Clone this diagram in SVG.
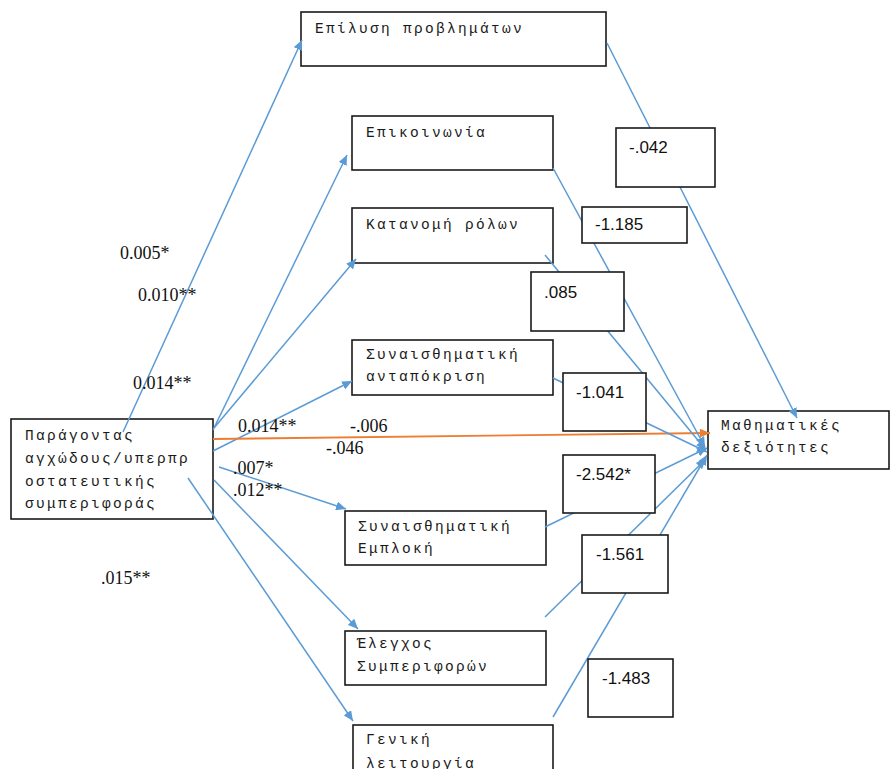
<svg xmlns="http://www.w3.org/2000/svg" width="892" height="774" viewBox="0 0 892 774">
  <defs>
    <marker id="arrow-blue" markerUnits="userSpaceOnUse" markerWidth="11" markerHeight="9" refX="10" refY="4.5" orient="auto">
      <path d="M0,0 L10,4.5 L0,9 z" fill="#5B9BD5"/>
    </marker>
    <marker id="arrow-orange" markerUnits="userSpaceOnUse" markerWidth="11" markerHeight="9" refX="10" refY="4.5" orient="auto">
      <path d="M0,0 L10,4.5 L0,9 z" fill="#ED7D31"/>
    </marker>
    <clipPath id="page-bottom">
      <rect x="0" y="0" width="892" height="769"/>
    </clipPath>
  </defs>
  <style>
    .box { fill: #ffffff; stroke: #1a1a1a; stroke-width: 1.6; }
    .node-text { font-family: "Liberation Mono", "DejaVu Sans Mono", monospace; font-size: 14.5px; letter-spacing: 2.3px; fill: #1a1a1a; }
    .coef { font-family: "Liberation Sans", Arial, sans-serif; font-size: 17px; fill: #111; }
    .path-label { font-family: "Liberation Serif", "Times New Roman", serif; font-size: 18px; fill: #111; }
    .edge { fill: none; stroke: #5B9BD5; stroke-width: 1.5; marker-end: url(#arrow-blue); }
    .edge-direct { fill: none; stroke: #ED7D31; stroke-width: 1.8; marker-end: url(#arrow-orange); }
  </style>

  <rect x="0" y="0" width="892" height="774" fill="#ffffff"/>

  <!-- variables -->
  <g id="node-predictor">
    <rect class="box" x="11" y="419" width="202" height="100"/>
    <text class="node-text" x="25" y="440">Παράγοντας</text>
    <text class="node-text" x="25" y="463">αγχώδους/υπερπρ</text>
    <text class="node-text" x="25" y="486">οστατευτικής</text>
    <text class="node-text" x="25" y="508">συμπεριφοράς</text>
  </g>
  <g id="node-problem-solving">
    <rect class="box" x="301" y="12" width="305" height="54"/>
    <text class="node-text" x="315" y="33">Επίλυση προβλημάτων</text>
  </g>
  <g id="node-communication">
    <rect class="box" x="352" y="116" width="201" height="54"/>
    <text class="node-text" x="366" y="137">Επικοινωνία</text>
  </g>
  <g id="node-roles">
    <rect class="box" x="352" y="208" width="201" height="55"/>
    <text class="node-text" x="366" y="229">Κατανομή ρόλων</text>
  </g>
  <g id="node-affective-responsiveness">
    <rect class="box" x="352" y="340" width="201" height="55"/>
    <text class="node-text" x="366" y="359">Συναισθηματική</text>
    <text class="node-text" x="366" y="381">ανταπόκριση</text>
  </g>
  <g id="node-affective-involvement">
    <rect class="box" x="345" y="511" width="201" height="54"/>
    <text class="node-text" x="358" y="531">Συναισθηματική</text>
    <text class="node-text" x="358" y="553">Εμπλοκή</text>
  </g>
  <g id="node-behavior-control">
    <rect class="box" x="345" y="631" width="201" height="54"/>
    <text class="node-text" x="357" y="648">Έλεγχος</text>
    <text class="node-text" x="357" y="671">Συμπεριφορών</text>
  </g>
  <g id="node-general-functioning" clip-path="url(#page-bottom)">
    <rect class="box" x="353" y="725" width="200" height="70"/>
    <text class="node-text" x="366" y="744">Γενική</text>
    <text class="node-text" x="366" y="768">λειτουργία</text>
  </g>
  <g id="node-math-skills">
    <rect class="box" x="708" y="411" width="181" height="58"/>
    <text class="node-text" x="721" y="430">Μαθηματικές</text>
    <text class="node-text" x="721" y="452">δεξιότητες</text>
  </g>

  <!-- paths -->
  <g id="connectors">
    <!-- predictor to mediators -->
    <path class="edge" d="M123,432 L302,40"/>
    <path class="edge" d="M213,430 L347,155"/>
    <path class="edge" d="M214,428 L356,259"/>
    <path class="edge" d="M213,451 L352,381"/>
    <path class="edge" d="M219,467 L346,509"/>
    <path class="edge" d="M214,480 L358,629"/>
    <path class="edge" d="M188,478 L353,721"/>
    <!-- direct effect -->
    <path class="edge-direct" d="M213,439 L710,433"/>
    <!-- mediators to outcome -->
    <path class="edge" d="M607,43 L797,418"/>
    <path class="edge" d="M553,168 L705,447"/>
    <path class="edge" d="M545,255 L706,450"/>
    <path class="edge" d="M553,378 L707,452"/>
    <path class="edge" d="M545,527 L707,448"/>
    <path class="edge" d="M545,617 L706,459"/>
    <path class="edge" d="M553,717 L707,455"/>
  </g>

  <!-- coefficients of the b paths -->
  <g id="edge-labels">
    <rect class="box" x="616" y="128" width="99" height="59"/>
    <text class="coef" x="629" y="153">-.042</text>
    <rect class="box" x="582" y="207" width="105" height="36"/>
    <text class="coef" x="595" y="230">-1.185</text>
    <rect class="box" x="531" y="272" width="93" height="59"/>
    <text class="coef" x="544" y="298">.085</text>
    <rect class="box" x="563" y="373" width="83" height="58"/>
    <text class="coef" x="576" y="398">-1.041</text>
    <rect class="box" x="563" y="455" width="92" height="58"/>
    <text class="coef" x="576" y="480">-2.542*</text>
    <rect class="box" x="582" y="535" width="86" height="58"/>
    <text class="coef" x="596" y="560">-1.561</text>
    <rect class="box" x="588" y="659" width="85" height="58"/>
    <text class="coef" x="602" y="684">-1.483</text>
  </g>

  <!-- coefficients of the a paths and direct effect -->
  <g id="path-labels">
    <text class="path-label" x="120" y="259">0.005*</text>
    <text class="path-label" x="138" y="301">0.010**</text>
    <text class="path-label" x="133" y="389">0.014**</text>
    <text class="path-label" x="238" y="432">0.014**</text>
    <text class="path-label" x="350" y="432">-.006</text>
    <text class="path-label" x="326" y="454">-.046</text>
    <text class="path-label" x="233" y="474">.007*</text>
    <text class="path-label" x="233" y="496">.012**</text>
    <text class="path-label" x="101" y="584">.015**</text>
  </g>
</svg>
